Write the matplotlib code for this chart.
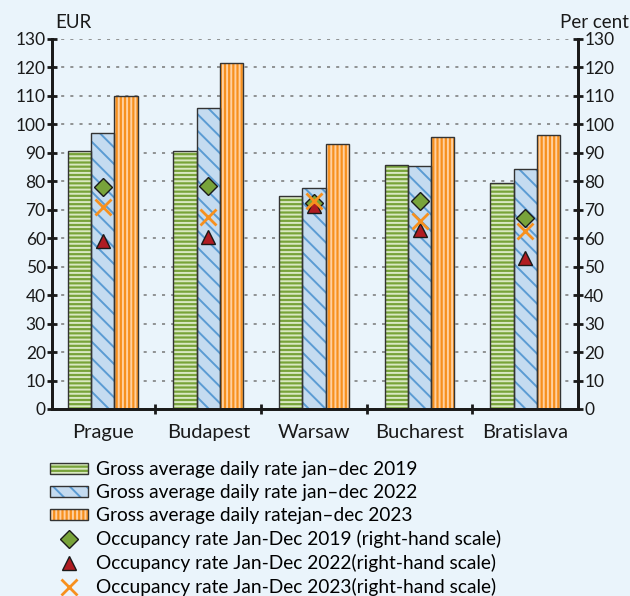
import matplotlib
matplotlib.use("Agg")
import matplotlib.pyplot as plt
import numpy as np
from matplotlib.legend_handler import HandlerTuple

cities = ["Prague", "Budapest", "Warsaw", "Bucharest", "Bratislava"]

# gross average daily rate, EUR
adr_2019 = [90.6, 90.6, 74.8, 85.7, 79.4]
adr_2022 = [97.0, 105.8, 77.6, 85.4, 84.3]
adr_2023 = [110.0, 121.5, 93.2, 95.7, 96.2]

# occupancy rate, per cent (right-hand scale)
occ_2019 = [78.0, 78.3, 72.5, 73.0, 67.0]
occ_2022 = [59.0, 60.3, 71.3, 62.8, 53.0]
occ_2023 = [70.8, 67.3, 73.2, 66.0, 62.5]

BG = "#EAF4FB"
plt.rcParams["font.family"] = ["Lato", "DejaVu Sans"]
plt.rcParams["hatch.linewidth"] = 1.4

fig = plt.figure(figsize=(6.30, 5.96), dpi=100, facecolor=BG)
ax = fig.add_axes([0.0825, 0.3138, 0.835, 0.6208], facecolor=BG)
ax2 = ax.twinx()

x = np.arange(len(cities))
w = 0.22

series = [
    (adr_2019, -w, "#78A33A", "#D9E8C2", "----", "Gross average daily rate jan\u2013dec 2019"),
    (adr_2022, 0, "#C4DBF0", "#5A9BD3", "\\\\", "Gross average daily rate jan\u2013dec 2022"),
    (adr_2023, w, "#F7901E", "#FFD0A0", "||||", "Gross average daily ratejan\u2013dec 2023"),
]
handles = []
labels = []
for vals, off, fc, hc, hatch, lab in series:
    b1 = ax.bar(x + off, vals, w, color=fc, edgecolor=hc, hatch=hatch, linewidth=0, zorder=2)
    b2 = ax.bar(x + off, vals, w, fill=False, edgecolor="#333333", linewidth=1.0, zorder=3)
    handles.append((b1, b2))
    labels.append(lab)

m1, = ax2.plot(x, occ_2019, linestyle="none", marker="D", markersize=9, color="#78A33A",
               markeredgecolor="#1a1a1a", markeredgewidth=1.0, zorder=5)
m2, = ax2.plot(x, occ_2022, linestyle="none", marker="^", markersize=10, color="#B01C22",
               markeredgecolor="#1a1a1a", markeredgewidth=1.0, zorder=5)
m3, = ax2.plot(x, occ_2023, linestyle="none", marker="x", markersize=11, color="#F7901E",
               markeredgewidth=2.0, zorder=6)
handles += [m1, m2, m3]
labels += ["Occupancy rate Jan-Dec 2019 (right-hand scale)",
           "Occupancy rate Jan-Dec 2022(right-hand scale)",
           "Occupancy rate Jan-Dec 2023(right-hand scale)"]

for a in (ax, ax2):
    a.set_ylim(0, 130)
    a.set_yticks(np.arange(0, 131, 10))
    a.set_xlim(-0.48, 4.5)
    a.spines["top"].set_visible(False)
    for s in ("left", "right", "bottom"):
        a.spines[s].set_linewidth(2)
        a.spines[s].set_color("#1a1a1a")
    a.tick_params(axis="y", direction="inout", length=7, width=2, labelsize=12.5,
                  colors="#1a1a1a", pad=1)

ax.yaxis.grid(True, linestyle=(0, (2, 4)), color="#777777", linewidth=1.1, zorder=0)
ax.set_axisbelow(True)

ax.set_xticks(x)
ax.set_xticklabels(cities, fontsize=14.5, color="#1a1a1a")
ax.tick_params(axis="x", which="major", length=0, pad=11)
ax.set_xticks(np.arange(0.5, 4.0, 1.0), minor=True)
ax.tick_params(axis="x", which="minor", direction="inout", length=7, width=2, colors="#1a1a1a")

fig.text(0.087, 0.963, "EUR", fontsize=13.5, color="#1a1a1a", ha="left", va="center")
fig.text(0.998, 0.963, "Per cent", fontsize=13.5, color="#1a1a1a", ha="right", va="center")

fig.legend(handles, labels, loc="upper left", bbox_to_anchor=(0.079, 0.226),
           frameon=False, fontsize=13.8, handlelength=2.0, handleheight=0.55,
           labelspacing=0.31, handletextpad=0.4, borderpad=0, borderaxespad=0,
           handler_map={tuple: HandlerTuple(ndivide=1, pad=0)})

fig.savefig("out.png", dpi=100, facecolor=BG)
